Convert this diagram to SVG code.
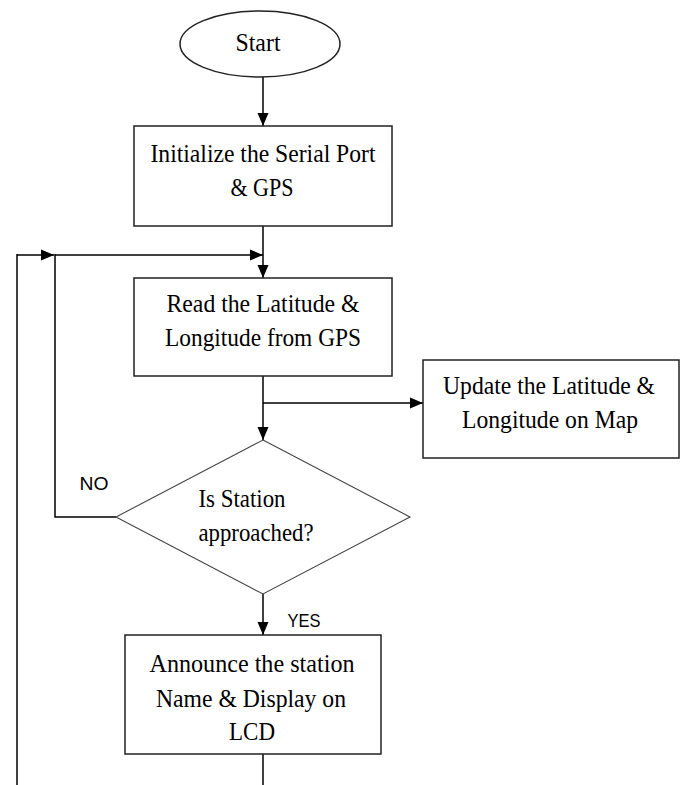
<svg xmlns="http://www.w3.org/2000/svg" width="681" height="785" viewBox="0 0 681 785">
<style>
.box{fill:#fff;stroke:#222;stroke-width:1.5}
.dia{fill:#fff;stroke:#444;stroke-width:1.1}
.t{font-family:"Liberation Serif","Times New Roman",serif;font-size:25px;fill:#000;text-anchor:middle}
.s{font-family:"Liberation Sans",Arial,sans-serif;font-size:19px;fill:#000;text-anchor:middle}
.c{fill:none;stroke:#000;stroke-width:1.5}
</style>
<defs>
<marker id="ah" viewBox="0 0 13 12" refX="13" refY="6" markerWidth="13" markerHeight="12" markerUnits="userSpaceOnUse" orient="auto">
<path d="M0,0.5 L13,6 L0,11.5 Z" fill="#000"/>
</marker>
</defs>
<g id="connectors">
<line class="c" x1="263" y1="77" x2="263" y2="126" marker-end="url(#ah)"/>
<line class="c" x1="263" y1="226" x2="263" y2="278" marker-end="url(#ah)"/>
<line class="c" x1="17" y1="255" x2="54" y2="255" marker-end="url(#ah)"/>
<line class="c" x1="55" y1="255" x2="263" y2="255" marker-end="url(#ah)"/>
<line class="c" x1="17" y1="254" x2="17" y2="785"/>
<polyline class="c" points="116,517 55,517 55,254"/>
<line class="c" x1="263" y1="376" x2="263" y2="440" marker-end="url(#ah)"/>
<line class="c" x1="263" y1="403" x2="423" y2="403" marker-end="url(#ah)"/>
<line class="c" x1="263" y1="594" x2="263" y2="635" marker-end="url(#ah)"/>
<line class="c" x1="263" y1="754" x2="263" y2="785"/>
</g>
<g id="start">
<ellipse class="box" cx="260" cy="44" rx="80" ry="33"/>
<text class="t" x="258" y="51" textLength="45" lengthAdjust="spacingAndGlyphs">Start</text>
</g>
<g id="init">
<rect class="box" x="134" y="126" width="258" height="100"/>
<text class="t" x="263" y="162" textLength="225" lengthAdjust="spacingAndGlyphs">Initialize the Serial Port</text>
<text class="t" x="262" y="196" textLength="63" lengthAdjust="spacingAndGlyphs">&amp; GPS</text>
</g>
<g id="read">
<rect class="box" x="134" y="278" width="258" height="98"/>
<text class="t" x="263" y="312" textLength="193" lengthAdjust="spacingAndGlyphs">Read the Latitude &amp;</text>
<text class="t" x="263" y="346" textLength="196" lengthAdjust="spacingAndGlyphs">Longitude from GPS</text>
</g>
<g id="update">
<rect class="box" x="423" y="360" width="256" height="98"/>
<text class="t" x="549" y="394" textLength="212" lengthAdjust="spacingAndGlyphs">Update the Latitude &amp;</text>
<text class="t" x="550" y="428" textLength="176" lengthAdjust="spacingAndGlyphs">Longitude on Map</text>
</g>
<g id="decision">
<polygon class="dia" points="263,440 410,517 263,594 116,517"/>
<text class="t" x="242" y="507" textLength="87" lengthAdjust="spacingAndGlyphs">Is Station</text>
<text class="t" x="256" y="541" textLength="115" lengthAdjust="spacingAndGlyphs">approached?</text>
</g>
<g id="announce">
<rect class="box" x="125" y="635" width="256" height="119"/>
<text class="t" x="252" y="672" textLength="205" lengthAdjust="spacingAndGlyphs">Announce the station</text>
<text class="t" x="251" y="707" textLength="190" lengthAdjust="spacingAndGlyphs">Name &amp; Display on</text>
<text class="t" x="252" y="740" textLength="46" lengthAdjust="spacingAndGlyphs">LCD</text>
</g>
<g id="labels">
<text class="s" x="94" y="490" textLength="29" lengthAdjust="spacingAndGlyphs">NO</text>
<text class="s" x="304" y="627" textLength="33" lengthAdjust="spacingAndGlyphs">YES</text>
</g>
</svg>
